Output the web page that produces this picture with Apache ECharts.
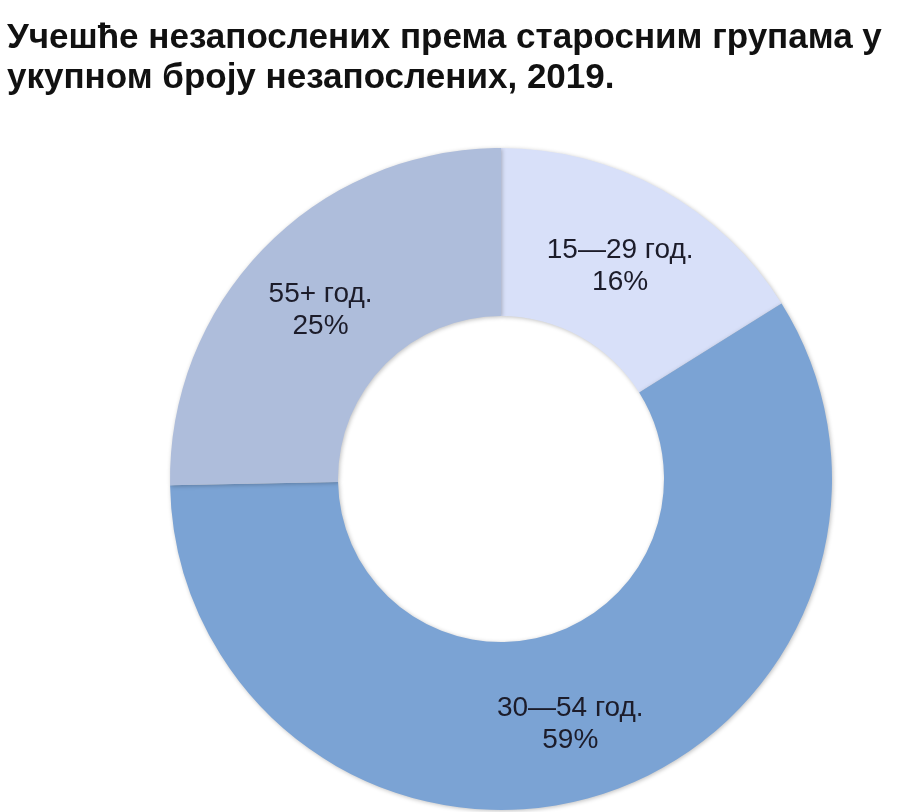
<!DOCTYPE html>
<html>
<head>
<meta charset="utf-8">
<script src="https://cdn.jsdelivr.net/npm/echarts@6/dist/echarts.min.js"></script>
<style>
html,body{margin:0;padding:0;background:#fff;}
#chart{width:910px;height:812px;}
</style>
</head>
<body>
<div id="chart"></div>
<script>
const titleLines = ['Учешће незапослених према старосним групама у', 'укупном броју незапослених, 2019.'];
const categories = ['15—29 год.', '30—54 год.', '55+ год.'];
const values = [16.1, 58.6, 25.3];
const colors = ['#D8E0F9', '#7BA3D4', '#AEBDDB'];

const chart = echarts.init(document.getElementById('chart'));
chart.setOption({
  animation: false,
  title: {
    text: titleLines.join('\n'),
    left: 2,
    top: 13,
    textStyle: {
      fontFamily: 'Liberation Sans, Arial, sans-serif',
      fontWeight: 'bold',
      fontSize: 35,
      lineHeight: 40,
      color: '#111111'
    }
  },
  series: [{
    type: 'pie',
    center: [501, 479],
    radius: [163, 331],
    startAngle: 90,
    clockwise: true,
    avoidLabelOverlap: false,
    itemStyle: {
      shadowBlur: 4,
      shadowColor: 'rgba(0,0,0,0.25)',
      shadowOffsetX: 1,
      shadowOffsetY: 1
    },
    label: {
      show: true,
      position: 'inside',
      offset: [-2, 6],
      formatter: function (p) { return p.name + '\n' + Math.round(p.value) + '%'; },
      fontFamily: 'Liberation Sans, Arial, sans-serif',
      fontSize: 28,
      lineHeight: 32,
      color: '#1c1c2a',
      textShadowBlur: 0
    },
    labelLine: { show: false },
    data: categories.map((c, i) => ({ name: c, value: values[i], itemStyle: { color: colors[i] } }))
  }]
});
</script>
</body>
</html>
